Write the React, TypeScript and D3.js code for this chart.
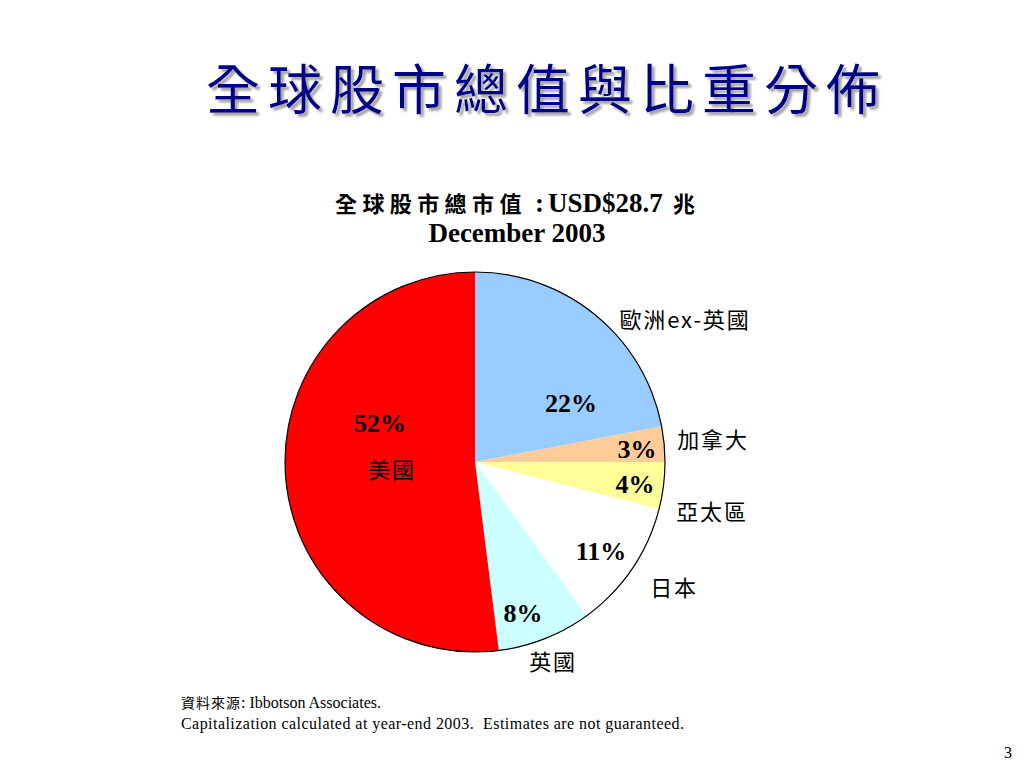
import React, { useEffect, useRef } from 'react';
import * as d3 from 'd3';

const REGIONS = ['歐洲ex-英國', '加拿大', '亞太區', '日本', '英國', '美國'];
const SHARES = [22, 3, 4, 11, 8, 52];
const COLORS = ['#99ccff', '#ffcc99', '#ffff99', '#ffffff', '#ccffff', '#ff0000'];

// label placement, offsets from pie centre (hand-placed like the slide)
const PCT_POS: [number, number][] = [[96, -59], [162, -13], [160, 22], [126, 89], [48, 151], [-95, -39]];
const NAME_POS: [number, number][] = [[210, -142], [238, -22], [237, 50], [199, 126], [78, 200], [-83, 8]];

const W = 1024;
const H = 768;
const CX = 475;
const CY = 462;
const R = 190;

const CJK = '"Noto Sans CJK TC", "Noto Sans CJK SC", sans-serif';
const SERIF = '"Liberation Serif", "Times New Roman", serif';

export default function App() {
  const svgRef = useRef<SVGSVGElement>(null);

  useEffect(() => {
    if (!svgRef.current) return;
    const svg = d3.select(svgRef.current);
    svg.selectAll('*').remove();

    const defs = svg.append('defs');
    defs.append('filter')
      .attr('id', 'shadow')
      .attr('x', '-5%').attr('y', '-20%').attr('width', '110%').attr('height', '150%')
      .append('feDropShadow')
      .attr('dx', 3).attr('dy', 3)
      .attr('stdDeviation', 0.8)
      .attr('flood-color', '#999')
      .attr('flood-opacity', 0.9);

    svg.append('rect').attr('width', W).attr('height', H).attr('fill', '#fff');

    // title
    svg.append('text')
      .attr('x', 547).attr('y', 110)
      .attr('text-anchor', 'middle')
      .attr('font-family', CJK)
      .attr('font-size', 54)
      .attr('letter-spacing', 8)
      .attr('fill', '#000088')
      .attr('filter', 'url(#shadow)')
      .text('全球股市總值與比重分佈');

    // subtitle
    svg.append('text')
      .attr('x', 335).attr('y', 212)
      .attr('font-family', CJK)
      .attr('font-size', 22)
      .attr('letter-spacing', 5.4)
      .attr('font-weight', 'bold')
      .text('全球股市總市值');
    svg.append('text')
      .attr('x', 535).attr('y', 212)
      .attr('font-family', SERIF)
      .attr('font-size', 27)
      .attr('font-weight', 'bold')
      .text(':');
    svg.append('text')
      .attr('x', 548).attr('y', 212)
      .attr('font-family', SERIF)
      .attr('font-size', 27)
      .attr('font-weight', 'bold')
      .text('USD$28.7');
    svg.append('text')
      .attr('x', 673).attr('y', 212)
      .attr('font-family', CJK)
      .attr('font-size', 22)
      .attr('font-weight', 'bold')
      .text('兆');

    svg.append('text')
      .attr('x', 517).attr('y', 242)
      .attr('text-anchor', 'middle')
      .attr('font-family', SERIF)
      .attr('font-size', 27)
      .attr('font-weight', 'bold')
      .text('December 2003');

    const g = svg.append('g').attr('transform', `translate(${CX},${CY})`);

    const pie = d3.pie<number>().value((d) => d).sort(null);
    const arc = d3.arc<d3.PieArcDatum<number>>().innerRadius(0).outerRadius(R);
    const arcs = pie(SHARES);

    g.selectAll('path.slice')
      .data(arcs)
      .enter()
      .append('path')
      .attr('class', 'slice')
      .attr('d', arc)
      .attr('fill', (_, i) => COLORS[i]);

    g.append('circle')
      .attr('r', R)
      .attr('fill', 'none')
      .attr('stroke', '#000')
      .attr('stroke-width', 1.2);

    g.selectAll('text.pct')
      .data(arcs)
      .enter()
      .append('text')
      .attr('class', 'pct')
      .attr('x', (_, i) => PCT_POS[i][0])
      .attr('y', (_, i) => PCT_POS[i][1])
      .attr('dy', '0.35em')
      .attr('text-anchor', 'middle')
      .attr('font-family', SERIF)
      .attr('font-size', 26)
      .attr('font-weight', 'bold')
      .attr('fill', '#000')
      .text((d) => `${d.data}%`);

    g.selectAll('text.name')
      .data(REGIONS)
      .enter()
      .append('text')
      .attr('class', 'name')
      .attr('x', (_, i) => NAME_POS[i][0])
      .attr('y', (_, i) => NAME_POS[i][1])
      .attr('dy', '0.35em')
      .attr('text-anchor', 'middle')
      .attr('font-family', CJK)
      .attr('font-size', 22)
      .attr('letter-spacing', 1.8)
      .attr('fill', '#000')
      .text((d) => d);

    // footer
    const f1 = svg.append('text').attr('x', 181).attr('y', 708).attr('font-size', 16).attr('fill', '#000');
    f1.append('tspan').attr('font-family', CJK).attr('font-size', 14).attr('letter-spacing', 1).text('資料來源');
    f1.append('tspan').attr('font-family', SERIF).text(': Ibbotson Associates.');
    svg.append('text')
      .attr('x', 181).attr('y', 729)
      .attr('font-family', SERIF)
      .attr('font-size', 16)
      .attr('textLength', 503)
      .attr('lengthAdjust', 'spacing')
      .style('white-space', 'pre')
      .text('Capitalization calculated at year-end 2003.  Estimates are not guaranteed.');

    svg.append('text')
      .attr('x', 1012).attr('y', 758)
      .attr('text-anchor', 'end')
      .attr('font-family', SERIF)
      .attr('font-size', 16)
      .text('3');
  }, []);

  return (
    <svg
      ref={svgRef}
      width={W}
      height={H}
      viewBox={`0 0 ${W} ${H}`}
      style={{ position: 'absolute', left: 0, top: 0 }}
    />
  );
}
